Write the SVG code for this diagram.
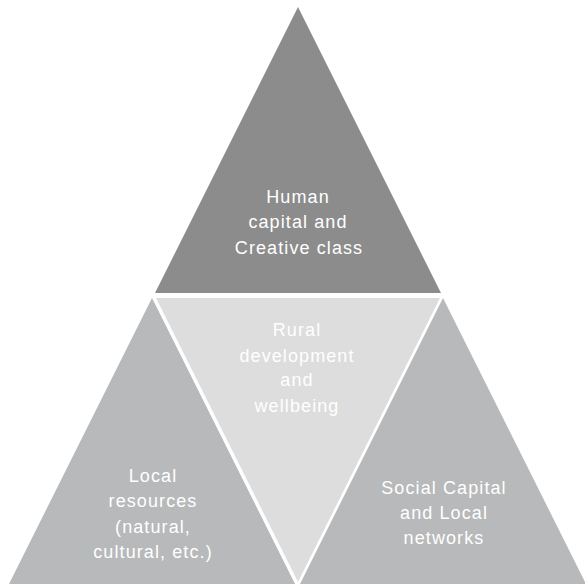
<svg xmlns="http://www.w3.org/2000/svg" width="585" height="584" viewBox="0 0 585 584">
<style>
.t{font-family:"Liberation Sans",Arial,sans-serif;font-size:18px;fill:#ffffff;text-anchor:middle;letter-spacing:1.1px}
</style>
<rect width="585" height="584" fill="#ffffff"/>
<g id="top">
<polygon points="298,7 155,293 441,293" fill="#8c8c8c"/>
<text class="t" x="298" y="203">Human</text>
<text class="t" x="298" y="228">capital and</text>
<text class="t" x="299" y="254">Creative class</text>
</g>
<g id="left">
<polygon points="152,298 9,584 295,584" fill="#b8b9ba"/>
<text class="t" x="153" y="482">Local</text>
<text class="t" x="153" y="507">resources</text>
<text class="t" x="153" y="533">(natural,</text>
<text class="t" x="153" y="558">cultural, etc.)</text>
</g>
<g id="center">
<polygon points="156,298 440,298 298,582" fill="#dcdddc"/>
<text class="t" x="297" y="336">Rural</text>
<text class="t" x="297" y="362">development</text>
<text class="t" x="297" y="386">and</text>
<text class="t" x="297" y="412">wellbeing</text>
</g>
<g id="right">
<polygon points="443,298 300,584 586,584" fill="#b8b9ba"/>
<text class="t" x="444" y="494">Social Capital</text>
<text class="t" x="444" y="519">and Local</text>
<text class="t" x="444" y="544">networks</text>
</g>
<g id="connectors"></g>
</svg>
